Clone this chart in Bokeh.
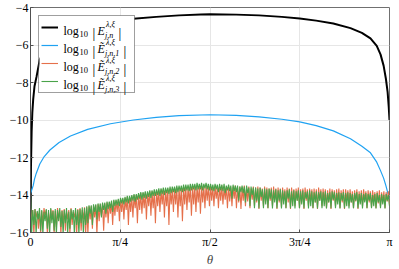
import math
import numpy as np
from bokeh.plotting import figure
from bokeh.models import Range1d, FixedTicker, Legend, LegendItem, Label, BoxAnnotation
from bokeh.embed import file_html
from bokeh.resources import INLINE

# ---------------- data ----------------
theta_black = [0.0, 0.004, 0.01, 0.016, 0.0236, 0.035, 0.0525, 0.0814, 0.12, 0.18,
               0.25, 0.35, 0.5, 0.7, 0.9, 1.1, 1.3, 1.49, 1.5708, 1.8,
               2.0, 2.2, 2.356, 2.5, 2.65, 2.8, 2.9, 2.975, 3.03, 3.063,
               3.09, 3.11, 3.125, 3.135, 3.1416]
black_vals = [-17.0, -12.5, -10.6, -9.6, -8.9, -8.2, -7.7, -6.77, -6.3, -5.85,
              -5.5, -5.2, -4.95, -4.75, -4.6, -4.5, -4.42, -4.37, -4.36, -4.38,
              -4.42, -4.5, -4.59, -4.7, -4.85, -5.1, -5.35, -5.65, -6.05, -6.5,
              -7.1, -7.8, -8.5, -9.3, -10.0]

theta_blue = [0.0, 0.004, 0.01, 0.0236, 0.035, 0.05, 0.0814, 0.12, 0.17, 0.25,
              0.35, 0.5, 0.7, 0.9, 1.1, 1.3, 1.5708, 1.8, 2.0, 2.2,
              2.356, 2.5, 2.65, 2.8, 2.9, 2.975, 3.03, 3.063, 3.09, 3.11,
              3.125, 3.135, 3.1416]
blue_vals = [-13.95, -13.85, -13.75, -13.5, -13.15, -12.85, -12.35, -11.95, -11.6, -11.2,
             -10.85, -10.5, -10.2, -10.0, -9.86, -9.77, -9.72, -9.75, -9.83, -9.96,
             -10.1, -10.3, -10.58, -11.0, -11.4, -11.75, -12.25, -12.7, -13.1, -13.5,
             -13.85, -14.1, -14.2]

n_noise = 320
theta_noise = np.linspace(0.0, math.pi, n_noise)

red_vals = [
    -14.7, -15.4, -14.8, -16.1, -14.75, -15.2, -14.9, -15.8, -14.8, -16.1,
    -14.85, -15.5, -14.7, -15.1, -14.8, -16.1, -14.9, -15.6, -14.75, -15.3,
    -14.8, -16.1, -14.85, -15.7, -14.7, -15.2, -14.9, -16.1, -14.8, -15.5,
    -14.75, -15.9, -14.85, -15.3, -14.8, -16.1, -14.7, -15.6, -14.9, -15.2,
    -14.8, -16.1, -14.75, -15.4, -14.7, -15.9, -14.8, -15.3, -14.65, -16.1,
    -14.65, -16.1, -14.6, -15.3, -14.6, -15.8, -14.55, -15.2, -14.55, -16.1,
    -14.5, -15.4, -14.5, -15.1, -14.45, -15.9, -14.45, -15.2, -14.4, -15.5,
    -14.4, -15.0, -14.35, -15.6, -14.3, -15.1, -14.3, -14.9, -14.25, -15.4,
    -14.2, -14.9, -14.2, -15.3, -14.15, -14.8, -14.1, -15.6, -14.1, -14.9,
    -14.05, -15.2, -14.0, -14.7, -14.0, -15.5, -13.95, -14.8, -13.9, -15.0,
    -13.9, -14.7, -13.85, -15.3, -13.85, -14.6, -13.8, -15.1, -13.8, -14.7,
    -13.8, -15.5, -13.75, -14.6, -13.75, -14.9, -13.7, -14.5, -13.7, -15.2,
    -13.7, -14.6, -13.65, -15.6, -13.65, -14.5, -13.65, -14.9, -13.6, -14.5,
    -13.6, -15.2, -13.6, -14.6, -13.6, -15.4, -13.55, -14.5, -13.55, -14.8,
    -13.55, -14.4, -13.55, -15.1, -13.5, -14.5, -13.5, -14.9, -13.5, -14.4,
    -13.5, -15.0, -13.5, -14.4, -13.5, -14.7, -13.45, -14.3, -13.5, -14.6,
    -13.5, -14.3, -13.55, -14.6, -13.5, -14.2, -13.6, -14.7, -13.55, -14.3,
    -13.5, -14.5, -13.6, -14.25, -13.55, -14.7, -13.5, -14.35, -13.6, -14.6,
    -13.55, -14.2, -13.5, -14.7, -13.6, -14.4, -13.55, -14.75, -13.6, -14.3,
    -13.5, -14.6, -13.6, -14.35, -13.55, -14.7, -13.65, -14.25, -13.55, -14.6,
    -13.6, -14.4, -13.55, -14.75, -13.6, -14.3, -13.65, -14.6, -13.55, -14.35,
    -13.6, -14.7, -13.65, -14.3, -13.6, -14.6, -13.55, -14.25, -13.65, -14.75,
    -13.6, -14.4, -13.65, -14.65, -13.6, -14.3, -13.7, -14.7, -13.6, -14.4,
    -13.65, -14.75, -13.6, -14.35, -13.7, -14.6, -13.65, -14.3, -13.6, -14.7,
    -13.7, -14.4, -13.65, -14.75, -13.6, -14.3, -13.7, -14.6, -13.65, -14.35,
    -13.7, -14.7, -13.65, -14.4, -13.7, -14.75, -13.6, -14.3, -13.7, -14.6,
    -13.65, -14.35, -13.7, -14.7, -13.75, -14.4, -13.65, -14.75, -13.7, -14.3,
    -13.75, -14.6, -13.7, -14.35, -13.65, -14.7, -13.75, -14.4, -13.7, -14.75,
    -13.7, -14.3, -13.75, -14.6, -13.7, -14.4, -13.8, -14.7, -13.75, -14.35,
    -13.7, -14.75, -13.8, -14.4, -13.75, -14.6, -13.7, -14.3, -13.8, -14.7,
    -13.75, -14.4, -13.8, -14.65, -13.75, -14.35, -13.85, -14.7, -13.8, -14.45,
    -13.75, -14.6, -13.85, -14.4, -13.8, -14.7, -13.85, -14.35, -13.8, -14.5,
]

green_vals = [
    -13.95, -16.1, -14.8, -15.6, -14.75, -16.1, -14.85, -15.3, -14.7, -15.9,
    -14.8, -16.1, -14.9, -15.4, -14.75, -15.8, -14.8, -16.1, -14.7, -15.5,
    -14.85, -15.9, -14.75, -16.1, -14.8, -15.4, -14.7, -15.7, -14.85, -16.1,
    -14.8, -15.5, -14.7, -16.1, -14.9, -15.8, -14.75, -15.3, -14.8, -16.1,
    -14.7, -15.6, -14.8, -16.1, -14.75, -15.5, -14.65, -16.1, -14.7, -15.6,
    -14.6, -15.5, -14.55, -15.0, -14.55, -15.6, -14.5, -14.9, -14.5, -15.3,
    -14.45, -14.9, -14.45, -15.2, -14.4, -14.8, -14.4, -15.0, -14.35, -14.75,
    -14.35, -14.7, -14.3, -14.9, -14.25, -14.6, -14.25, -14.55, -14.2, -14.6,
    -14.15, -14.45, -14.15, -14.5, -14.1, -14.4, -14.05, -14.45, -14.05, -14.35,
    -14.0, -14.3, -13.95, -14.35, -13.95, -14.25, -13.9, -14.2, -13.85, -14.25,
    -13.85, -14.15, -13.8, -14.2, -13.8, -14.1, -13.75, -14.15, -13.75, -14.05,
    -13.7, -14.05, -13.7, -14.0, -13.65, -14.05, -13.65, -13.95, -13.6, -14.0,
    -13.6, -13.9, -13.6, -13.95, -13.55, -13.9, -13.55, -13.85, -13.55, -13.9,
    -13.5, -13.85, -13.5, -13.8, -13.5, -13.85, -13.45, -13.8, -13.45, -13.75,
    -13.45, -13.8, -13.4, -13.75, -13.4, -13.7, -13.4, -13.75, -13.35, -13.7,
    -13.4, -13.7, -13.35, -13.75, -13.4, -13.65, -13.35, -13.7, -13.4, -13.75,
    -13.4, -13.75, -13.45, -13.8, -13.4, -13.7, -13.45, -13.85, -13.4, -13.75,
    -13.45, -13.8, -13.4, -13.9, -13.5, -13.75, -13.45, -13.8, -13.5, -14.2,
    -13.45, -13.8, -13.5, -13.85, -13.5, -14.3, -13.55, -13.85, -13.5, -13.9,
    -13.55, -14.4, -13.5, -13.9, -13.6, -14.6, -13.55, -14.0, -13.6, -14.7,
    -13.6, -14.3, -13.65, -14.7, -13.6, -14.1, -13.7, -14.7, -13.65, -14.5,
    -13.7, -14.7, -13.65, -14.2, -13.7, -14.72, -13.75, -14.4, -13.7, -14.7,
    -13.75, -14.3, -13.7, -14.72, -13.75, -14.5, -13.8, -14.7, -13.75, -14.2,
    -13.7, -14.7, -13.8, -14.6, -13.75, -14.72, -13.8, -14.3, -13.75, -14.7,
    -13.8, -14.5, -13.75, -14.7, -13.85, -14.2, -13.8, -14.72, -13.75, -14.6,
    -13.8, -14.7, -13.85, -14.4, -13.8, -14.72, -13.85, -14.3, -13.8, -14.7,
    -13.85, -14.6, -13.8, -14.72, -13.9, -14.4, -13.85, -14.7, -13.8, -14.25,
    -13.85, -14.7, -13.9, -14.5, -13.85, -14.72, -13.9, -14.3, -13.85, -14.7,
    -13.9, -14.6, -13.85, -14.72, -13.9, -14.4, -13.95, -14.7, -13.9, -14.3,
    -13.85, -14.7, -13.95, -14.5, -13.9, -14.72, -13.95, -14.4, -13.9, -14.7,
    -13.95, -14.3, -13.9, -14.7, -14.0, -14.6, -13.95, -14.72, -13.9, -14.4,
    -14.0, -14.7, -13.95, -14.5, -14.0, -14.72, -13.95, -14.3, -14.0, -14.6,
]

x_ticks = [0.0, math.pi / 4, math.pi / 2, 3 * math.pi / 4, math.pi]
x_tick_labels = ["0", "π/4", "π/2", "3π/4", "π"]
y_ticks = [-16, -14, -12, -10, -8, -6, -4]
y_tick_labels = ["−16", "−14", "−12", "−10", "−8", "−6", "−4"]

sub_labels = ["j,n", "j,n,1", "j,n,2", "j,n,3"]
e_labels = ["E", "Ẽ", "Ẽ", "Ẽ"]

# ---------------- styling ----------------
BLACK = "#000000"
BLUE = "#1fa2f2"
RED = "#e5704b"
GREEN = "#4aa34a"
SERIF = "Liberation Serif"

W_FIG, H_FIG = 399, 269
FL, FR, FT, FB = 30, 10, 7, 37          # borders around the frame (px)
FW = float(W_FIG - FL - FR)
FH = float(H_FIG - FT - FB)

p = figure(width=W_FIG, height=H_FIG, output_backend="svg", toolbar_location=None,
           x_range=Range1d(0, math.pi), y_range=Range1d(-16, -4))
p.min_border_left = FL
p.min_border_right = FR
p.min_border_top = FT
p.min_border_bottom = FB
p.background_fill_color = "white"
p.border_fill_color = "white"
p.outline_line_color = "#707070"
p.outline_line_width = 1

r_black = p.line(theta_black, black_vals, line_color=BLACK, line_width=2)
r_blue = p.line(theta_blue, blue_vals, line_color=BLUE, line_width=1.2)
r_red = p.line(theta_noise, red_vals, line_color=RED, line_width=1.1)
r_green = p.line(theta_noise, green_vals, line_color=GREEN, line_width=1.1)

for ax in (p.xaxis[0], p.yaxis[0]):
    ax.axis_line_color = "#505050"
    ax.major_tick_in = 3
    ax.major_tick_out = 0
    ax.minor_tick_line_color = None
    ax.major_tick_line_color = "#505050"
    ax.major_label_text_font = SERIF
    ax.major_label_text_font_size = "12px"
    ax.major_label_text_color = "#000000"
    ax.major_label_standoff = 2

p.xaxis.ticker = FixedTicker(ticks=x_ticks)
p.xaxis.major_label_overrides = {t: s for t, s in zip(x_ticks, x_tick_labels)}
p.yaxis.ticker = FixedTicker(ticks=y_ticks)
p.yaxis.major_label_overrides = {t: s for t, s in zip(y_ticks, y_tick_labels)}
p.xaxis.axis_label = "θ"
p.xaxis.axis_label_text_font = SERIF
p.xaxis.axis_label_text_font_style = "italic"
p.xaxis.axis_label_text_font_size = "13px"
p.xaxis.axis_label_standoff = 0

p.xgrid.grid_line_color = "#e6e6e6"
p.ygrid.grid_line_color = "#e6e6e6"


def to_data(dx, dy):
    return (dx / FW * math.pi, -4 - dy / FH * 12)


# legend: white backing box, then the legend frame and line samples, then texts
LM, LWID, LHT = 9, 95, 76
x0, y0 = to_data(LM, 8)
x1, y1 = to_data(LM + LWID, 8 + LHT)
p.add_layout(BoxAnnotation(left=x0, right=x1, top=y0, bottom=y1,
                           fill_color="white", fill_alpha=1.0, line_color=None))

items = [LegendItem(label=" ", renderers=[r]) for r in (r_black, r_blue, r_red, r_green)]
leg = Legend(items=items, location="top_left", margin=8, padding=2, spacing=0,
             glyph_width=17, glyph_height=18, label_height=18, label_width=69,
             label_standoff=5, border_line_color="#404040", border_line_width=1,
             background_fill_alpha=0.0, label_text_font_size="1px")
p.add_layout(leg)


def add_text(txt, dx, dy, size, style="normal"):
    x, y = to_data(dx, dy)
    p.add_layout(Label(x=x, y=y, text=txt, text_font=SERIF, text_font_size=size,
                       text_font_style=style, text_baseline="alphabetic",
                       text_align="left", text_color="black"))


for k in range(4):
    cy = 19 + 18 * k
    bx = 9
    add_text("log", bx + 24, cy + 4, "12px")
    add_text("10", bx + 40, cy + 7, "8.5px")
    add_text("|", bx + 53, cy + 6.5, "14px")
    add_text(e_labels[k], bx + 58, cy + 4, "12px", "italic")
    add_text("λ,ξ", bx + 66.5, cy - 2.5, "8px", "italic")
    add_text(sub_labels[k], bx + 65.5, cy + 8.5, "8px", "italic")
    add_text("|", bx + (79 if k == 0 else 84), cy + 6.5, "14px")

open("out.html", "w").write(file_html(p, INLINE))
